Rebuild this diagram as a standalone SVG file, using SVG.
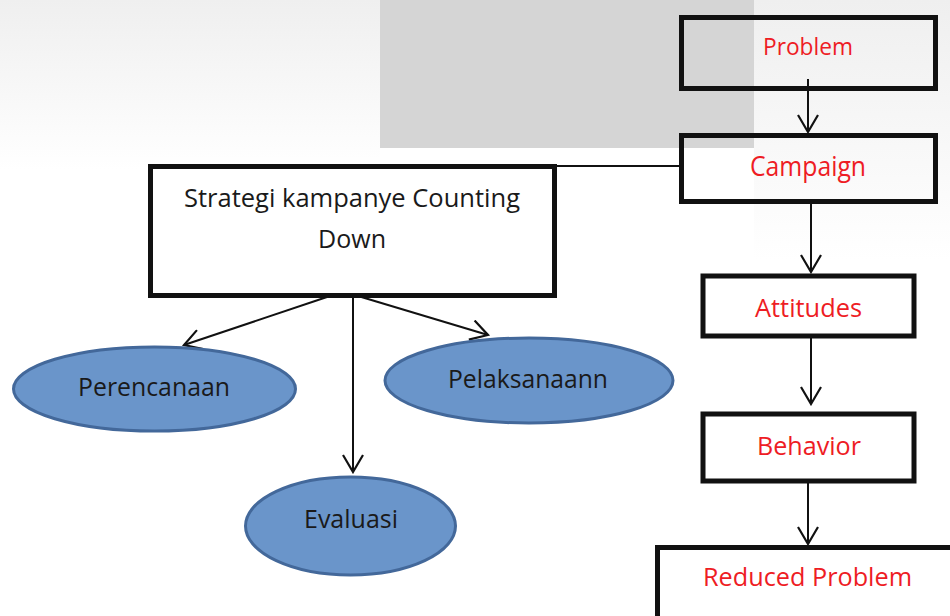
<svg xmlns="http://www.w3.org/2000/svg" width="950" height="616" viewBox="0 0 950 616">
<style>
.box{fill:none;stroke:#111;stroke-width:5}
.ell{fill:#6a95ca;stroke:#43689a;stroke-width:3}
.red{fill:#ee1c24;font-family:"Open Sans","Liberation Sans",sans-serif;text-anchor:middle}
.blk{fill:#1a1a1a;font-family:"Open Sans","Liberation Sans",sans-serif;text-anchor:middle}
.con{stroke:#111;stroke-width:2;fill:none}
</style>
<defs>
<marker id="ah" viewBox="-18 -11 20 22" markerWidth="20" markerHeight="22" refX="0" refY="0" orient="auto" markerUnits="userSpaceOnUse">
<path d="M-17,-10 L0,0 L-17,10" fill="none" stroke="#111" stroke-width="2.2"/>
</marker>
<linearGradient id="fadeL" x1="0" y1="0" x2="0" y2="1">
<stop offset="0" stop-color="#efefef"/>
<stop offset="1" stop-color="#ffffff"/>
</linearGradient>
</defs>
<rect width="950" height="616" fill="#ffffff"/>
<rect x="0" y="0" width="380" height="170" fill="url(#fadeL)"/>
<rect x="754" y="0" width="196" height="260" fill="url(#fadeL)"/>
<rect x="380" y="0" width="374" height="148" fill="#d5d5d5"/>

<g id="connectors">
<line class="con" x1="808" y1="79" x2="808" y2="132" marker-end="url(#ah)"/>
<line class="con" x1="557" y1="166" x2="680" y2="166"/>
<line class="con" x1="811" y1="204" x2="811" y2="272" marker-end="url(#ah)"/>
<line class="con" x1="811" y1="338" x2="811" y2="404" marker-end="url(#ah)"/>
<line class="con" x1="808" y1="483" x2="808" y2="544" marker-end="url(#ah)"/>
<line class="con" x1="330" y1="296" x2="184" y2="345" marker-end="url(#ah)"/>
<line class="con" x1="353" y1="296" x2="353" y2="472" marker-end="url(#ah)"/>
<line class="con" x1="358" y1="296" x2="488" y2="335" marker-end="url(#ah)"/>
</g>

<g id="problem">
<rect class="box" x="681.5" y="17.5" width="254" height="71"/>
<text class="red" x="808" y="55" font-size="23" textLength="90" lengthAdjust="spacingAndGlyphs">Problem</text>
</g>
<g id="campaign">
<rect class="box" x="681.5" y="135.5" width="254" height="66"/>
<text class="red" x="808" y="176" font-size="28" textLength="116" lengthAdjust="spacingAndGlyphs">Campaign</text>
</g>
<g id="strategi">
<rect class="box" x="150.5" y="166.5" width="404" height="129"/>
<text class="blk" x="352" y="207" font-size="25" textLength="336" lengthAdjust="spacingAndGlyphs">Strategi kampanye Counting</text>
<text class="blk" x="352" y="248" font-size="25" textLength="68" lengthAdjust="spacingAndGlyphs">Down</text>
</g>
<g id="attitudes">
<rect class="box" x="703" y="276" width="211" height="60" stroke-width="4"/>
<text class="red" x="808.5" y="317" font-size="25" textLength="107" lengthAdjust="spacingAndGlyphs">Attitudes</text>
</g>
<g id="behavior">
<rect class="box" x="703" y="414" width="211" height="67" stroke-width="4"/>
<text class="red" x="809" y="455" font-size="25" textLength="104" lengthAdjust="spacingAndGlyphs">Behavior</text>
</g>
<g id="reduced">
<rect class="box" x="657.5" y="547.5" width="300" height="80"/>
<text class="red" x="807.5" y="586" font-size="25" textLength="209" lengthAdjust="spacingAndGlyphs">Reduced Problem</text>
</g>
<g id="perencanaan">
<ellipse class="ell" cx="154.5" cy="389" rx="141" ry="42"/>
<text class="blk" x="154" y="396" font-size="25" textLength="152" lengthAdjust="spacingAndGlyphs">Perencanaan</text>
</g>
<g id="pelaksanaann">
<ellipse class="ell" cx="529" cy="380.5" rx="144" ry="42.5"/>
<text class="blk" x="528" y="388" font-size="25" textLength="160" lengthAdjust="spacingAndGlyphs">Pelaksanaann</text>
</g>
<g id="evaluasi">
<ellipse class="ell" cx="350.5" cy="526" rx="105" ry="49"/>
<text class="blk" x="351" y="528" font-size="25" textLength="94" lengthAdjust="spacingAndGlyphs">Evaluasi</text>
</g>
</svg>
